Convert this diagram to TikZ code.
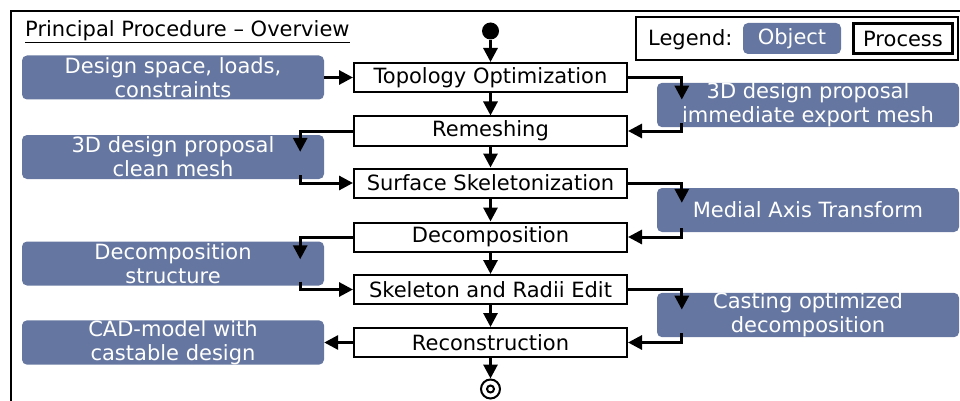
\documentclass[tikz,border=0pt]{standalone}
\usepackage{fontspec}
\setmainfont{DejaVu Sans}
\usetikzlibrary{arrows.meta}

\definecolor{objblue}{RGB}{101,118,160}
\tikzset{
  txt/.style={font=\fontsize{21}{24}\selectfont, inner sep=0pt, align=center},
  process/.style={txt, draw, line width=2pt, minimum width=273pt, minimum height=29pt},
  object/.style={txt, fill=objblue, text=white, rounded corners=5pt, minimum width=302pt, minimum height=44pt},
  flow/.style={line width=3pt, -{Triangle[length=14pt,width=14pt]}},
}

\begin{document}
\begin{tikzpicture}[x=1pt, y=-1pt, line join=miter]
    \useasboundingbox (0,0) rectangle (960,401);
    \draw[line width=2pt] (961,11) -- (11,11) -- (11,402);
    \node[txt, anchor=west] (title) at (25,32) {\underline{Principal Procedure -- Overview}};

    % legend
    \draw[line width=2pt] (636,17) rectangle (958,60);
    \node[txt, anchor=west] (legend) at (648,40) {Legend:};
    \node[object, minimum width=98pt, minimum height=31pt] (legobj) at (792,38.5) {Object};
    \node[process, line width=3pt, minimum width=99pt, minimum height=30pt] (legproc) at (903,38.5) {Process};

    % process chain
    \node[process] (topo)   at (490.5,77.5)  {Topology Optimization};
    \node[process] (remesh) at (490.5,131)   {Remeshing};
    \node[process] (skel)   at (490.5,183)   {Surface Skeletonization};
    \node[process] (decomp) at (490.5,237)   {Decomposition};
    \node[process] (edit)   at (490.5,289.5) {Skeleton and Radii Edit};
    \node[process] (recon)  at (490.5,342.5) {Reconstruction};
    \node[circle, fill, inner sep=0pt, minimum size=17pt] (start) at (490.5,31) {};
    \node[circle, draw, line width=2pt, inner sep=0pt, minimum size=19pt] (stop) at (490.5,389) {};
    \node[circle, draw, line width=2pt, inner sep=0pt, minimum size=7pt] (stopcore) at (stop) {};

    % objects
    \node[object] (design)       at (173,77.5)  {Design space, loads,\\constraints};
    \node[object] (cleanmesh)    at (173,157)   {3D design proposal\\clean mesh};
    \node[object] (decompstruct) at (173,263.5) {Decomposition\\structure};
    \node[object] (cad)          at (173,342.5) {CAD-model with\\castable design};
    \node[object] (exportmesh)   at (808,105)   {3D design proposal\\immediate export mesh};
    \node[object] (mat)          at (808,210)   {Medial Axis Transform};
    \node[object] (castdecomp)   at (808,315)   {Casting optimized\\decomposition};

    % main flow
    \draw[flow] (start) -- (topo);
    \draw[flow] (topo) -- (remesh);
    \draw[flow] (remesh) -- (skel);
    \draw[flow] (skel) -- (decomp);
    \draw[flow] (decomp) -- (edit);
    \draw[flow] (edit) -- (recon);
    \draw[flow] (recon) -- (stop);

    % side loops
    \draw[flow] (design.east) -- (topo.west);
    \draw[flow] (topo.east) -| ([xshift=25pt,yshift=-17pt]exportmesh.north west);
    \draw[flow] ([xshift=25pt,yshift=4pt]exportmesh.south west) |- (remesh.east);
    \draw[flow] (remesh.west) -| ([xshift=-24pt,yshift=-17pt]cleanmesh.north east);
    \draw[flow] ([xshift=-24pt,yshift=4pt]cleanmesh.south east) |- (skel.west);
    \draw[flow] (skel.east) -| ([xshift=25pt,yshift=-15pt]mat.north west);
    \draw[flow] ([xshift=25pt,yshift=4pt]mat.south west) |- (decomp.east);
    \draw[flow] (decomp.west) -| ([xshift=-24pt,yshift=-18pt]decompstruct.north east);
    \draw[flow] ([xshift=-24pt,yshift=4pt]decompstruct.south east) |- (edit.west);
    \draw[flow] (edit.east) -| ([xshift=25pt,yshift=-17pt]castdecomp.north west);
    \draw[flow] ([xshift=25pt,yshift=4pt]castdecomp.south west) |- (recon.east);
    \draw[flow] (recon.west) -- (cad.east);
\end{tikzpicture}
\end{document}
